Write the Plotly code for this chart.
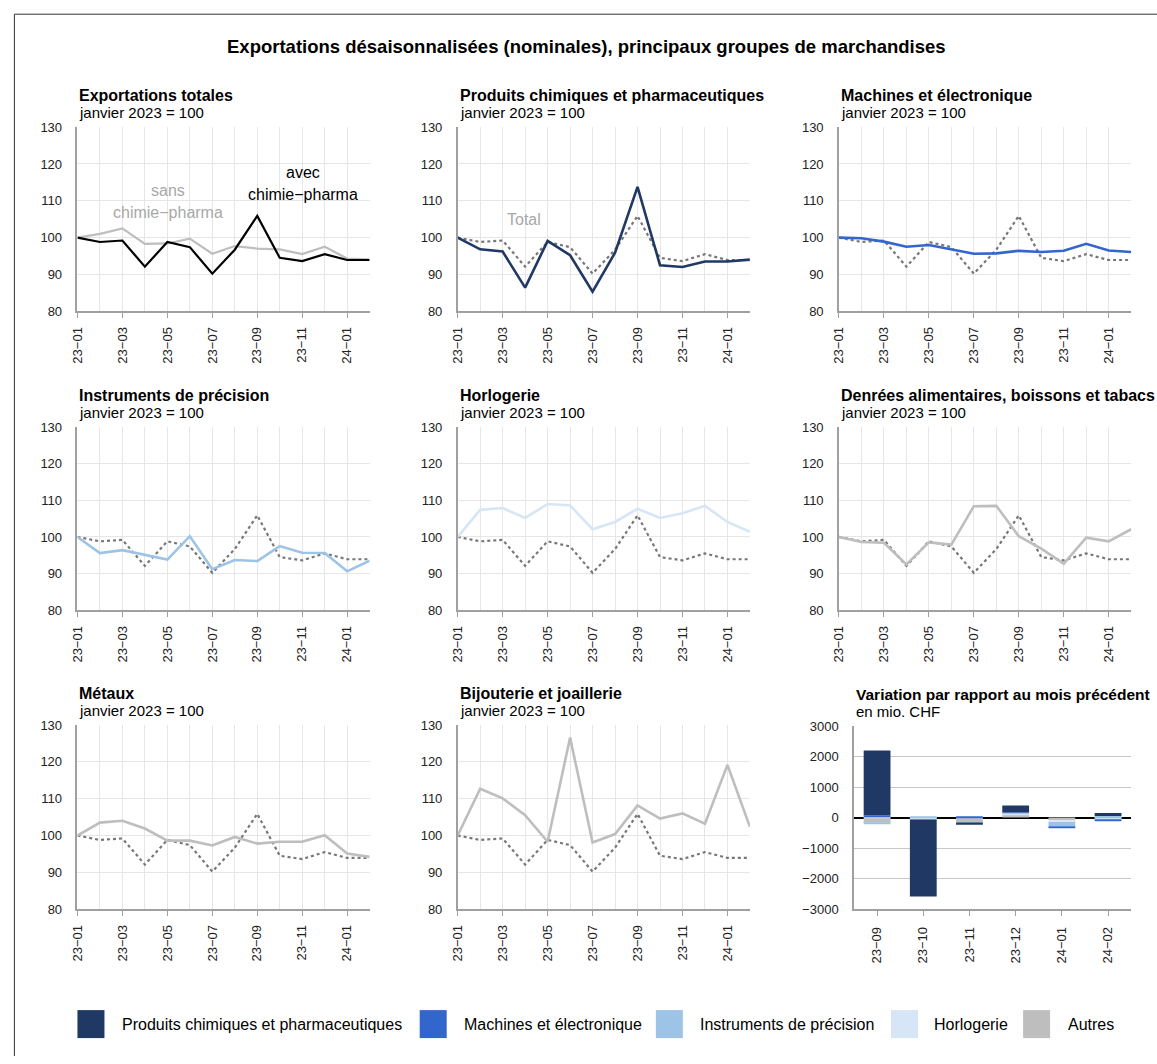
import plotly.graph_objects as go

W, H = 1157, 1064

months = ["23\u221201", "23\u221202", "23\u221203", "23\u221204", "23\u221205", "23\u221206", "23\u221207",
          "23\u221208", "23\u221209", "23\u221210", "23\u221211", "23\u221212", "24\u221201", "24\u221202"]

total = [100, 98.8, 99.2, 92.1, 98.8, 97.4, 90.2, 96.7, 105.9, 94.5, 93.6, 95.5, 93.9, 93.9]
sans_chimie = [100, 101.0, 102.5, 98.3, 98.4, 99.7, 95.6, 97.7, 97.0, 96.8, 95.5, 97.5, 94.3, 94.1]
chimie = [100, 96.8, 96.2, 86.4, 99.1, 95.2, 85.3, 95.9, 113.8, 92.5, 92.0, 93.5, 93.5, 94.0]
machines = [100, 99.8, 98.9, 97.5, 98.0, 96.8, 95.6, 95.7, 96.4, 96.1, 96.4, 98.3, 96.5, 96.1]
instruments = [100, 95.6, 96.4, 95.0, 93.8, 100.2, 91.2, 93.7, 93.4, 97.5, 95.7, 95.6, 90.6, 93.5]
horlogerie = [100, 107.4, 107.9, 105.2, 109.0, 108.6, 102.1, 104.1, 107.7, 105.2, 106.5, 108.5, 104.1, 101.4]
denrees = [100, 98.6, 98.4, 92.5, 98.5, 97.9, 108.4, 108.5, 100.2, 96.8, 92.7, 99.8, 98.8, 102.1]
metaux = [100, 103.5, 104.0, 101.9, 98.6, 98.6, 97.3, 99.6, 97.8, 98.3, 98.3, 100.1, 95.1, 94.2]
bijouterie = [100, 112.7, 110.1, 105.5, 98.3, 126.6, 98.1, 100.4, 108.2, 104.6, 106.0, 103.2, 119.2, 102.4]

bar_months = ["23\u221209", "23\u221210", "23\u221211", "23\u221212", "24\u221201", "24\u221202"]
var_autres = [-170, -10, -150, 95, -90, 10]
var_horlogerie = [40, -60, 15, 55, -55, -70]
var_instruments = [-15, 40, -10, 0, -140, 45]
var_machines = [35, -10, 25, 30, -35, -40]
var_chimie = [2130, -2510, -75, 220, 0, 95]

legend_labels = ["Produits chimiques et pharmaceutiques", "Machines et électronique",
                 "Instruments de précision", "Horlogerie", "Autres"]

C_CHEM = "#1F3864"
C_MACH = "#3366CC"
C_INST = "#9DC3E6"
C_HORL = "#D6E6F6"
C_GREY = "#BEBEBE"
C_DOT = "#777777"

FONT = "Liberation Sans, Arial, sans-serif"

# compensation for the page-capture offset/scale observed
OX, SX = 7.6, 0.9924
OY, SY = 6.8, 0.986


def px_x(p):
    return ((p - OX) / SX) / W


def px_y(p):
    return 1 - ((p - OY) / SY) / H


cols = [(77, 369), (457, 749), (838, 1130)]
rows = [(127, 311), (427, 610), (725, 909)]

panels = [
    ("Exportations totales", None, None),
    ("Produits chimiques et pharmaceutiques", chimie, C_CHEM),
    ("Machines et électronique", machines, C_MACH),
    ("Instruments de précision", instruments, C_INST),
    ("Horlogerie", horlogerie, C_HORL),
    ("Denrées alimentaires, boissons et tabacs", denrees, C_GREY),
    ("Métaux", metaux, C_GREY),
    ("Bijouterie et joaillerie", bijouterie, C_GREY),
]

fig = go.Figure()
annotations = []
shapes = []
layout = {}
xi = list(range(len(months)))

for i, (title, series, color) in enumerate(panels):
    r, c = divmod(i, 3)
    n = i + 1
    xa = "x" if n == 1 else f"x{n}"
    ya = "y" if n == 1 else f"y{n}"
    if i == 0:
        fig.add_trace(go.Scatter(x=xi, y=sans_chimie, mode="lines", line=dict(color=C_GREY, width=2.2),
                                 xaxis=xa, yaxis=ya, showlegend=False))
        fig.add_trace(go.Scatter(x=xi, y=total, mode="lines", line=dict(color="black", width=2.2),
                                 xaxis=xa, yaxis=ya, showlegend=False))
    else:
        fig.add_trace(go.Scatter(x=xi, y=total, mode="lines", line=dict(color=C_DOT, width=2.2, dash="dot"),
                                 xaxis=xa, yaxis=ya, showlegend=False))
        fig.add_trace(go.Scatter(x=xi, y=series, mode="lines", line=dict(color=color, width=2.6),
                                 xaxis=xa, yaxis=ya, showlegend=False))
    x0, x1 = cols[c]
    y0, y1 = rows[r]
    layout["xaxis" if n == 1 else f"xaxis{n}"] = dict(
        domain=[px_x(x0), px_x(x1)], anchor=ya, range=[0, 13],
        tickvals=xi[::2], ticktext=months[::2], tickangle=-90,
        showgrid=True, gridcolor="#E6E6E6", gridwidth=1,
        minor=dict(tickvals=xi[1::2], showgrid=True, gridcolor="#E6E6E6", gridwidth=1, ticks=""),
        showline=True, linecolor="#A0A0A0", linewidth=1.5,
        ticks="outside", ticklen=5, tickcolor="#A0A0A0", ticklabelstandoff=4,
        tickfont=dict(family=FONT, size=13, color="#222222"), zeroline=False, fixedrange=True)
    layout["yaxis" if n == 1 else f"yaxis{n}"] = dict(
        domain=[px_y(y1), px_y(y0)], anchor=xa, range=[80, 130], tickvals=[80, 90, 100, 110, 120, 130],
        showgrid=True, gridcolor="#E6E6E6", gridwidth=1,
        showline=True, linecolor="#A0A0A0", linewidth=1.5,
        ticks="", ticklabelstandoff=11,
        tickfont=dict(family=FONT, size=13, color="#222222"), zeroline=False, fixedrange=True)
    annotations.append(dict(x=px_x(x0), y=px_y(y0 - 32), xref="paper", yref="paper", xanchor="left", yanchor="middle",
                            text=f"<b>{title}</b>", showarrow=False,
                            font=dict(family=FONT, size=16, color="black")))
    annotations.append(dict(x=px_x(x0), y=px_y(y0 - 15), xref="paper", yref="paper", xanchor="left", yanchor="middle",
                            text="janvier 2023 = 100", showarrow=False,
                            font=dict(family=FONT, size=15, color="black")))

# Bar panel
bx = list(range(len(bar_months)))
bar_traces = [(var_autres, C_GREY), (var_horlogerie, C_HORL), (var_instruments, C_INST),
              (var_machines, C_MACH), (var_chimie, C_CHEM)]
for vals, col in bar_traces:
    fig.add_trace(go.Bar(x=bx, y=vals, marker=dict(color=col, line=dict(width=0)), width=0.58,
                         xaxis="x9", yaxis="y9", showlegend=False))
layout["xaxis9"] = dict(domain=[px_x(853), px_x(1130)], anchor="y9", range=[-0.5, 5.5],
                        tickvals=bx, ticktext=bar_months, tickangle=-90, showgrid=False,
                        showline=True, linecolor="#A0A0A0", linewidth=1.5,
                        ticks="outside", ticklen=5, tickcolor="#A0A0A0", ticklabelstandoff=6,
                        tickfont=dict(family=FONT, size=13, color="#222222"), fixedrange=True)
layout["yaxis9"] = dict(domain=[px_y(909), px_y(726)], anchor="x9", range=[-3000, 3000],
                        tickvals=[-3000, -2000, -1000, 0, 1000, 2000, 3000],
                        showgrid=True, gridcolor="#C8C8C8", gridwidth=1.2,
                        showline=True, linecolor="#A0A0A0", linewidth=1.5,
                        zeroline=True, zerolinecolor="black", zerolinewidth=1.5,
                        ticks="", ticklabelstandoff=11,
                        tickfont=dict(family=FONT, size=13, color="#222222"), fixedrange=True)
annotations.append(dict(x=px_x(853), y=px_y(694), xref="paper", yref="paper", xanchor="left", yanchor="middle",
                        text="<b>Variation par rapport au mois précédent</b>", showarrow=False,
                        font=dict(family=FONT, size=15.5, color="black")))
annotations.append(dict(x=px_x(853), y=px_y(711), xref="paper", yref="paper", xanchor="left", yanchor="middle",
                        text="en mio. CHF", showarrow=False,
                        font=dict(family=FONT, size=15, color="black")))

# Main title
annotations.append(dict(x=px_x(586), y=px_y(46), xref="paper", yref="paper", xanchor="center", yanchor="middle",
                        text="<b>Exportations désaisonnalisées (nominales), principaux groupes de marchandises</b>",
                        showarrow=False, font=dict(family=FONT, size=18.5, color="black")))

# Panel 1 labels
for txt, yy in [("sans", 190), ("chimie\u2212pharma", 212)]:
    annotations.append(dict(x=px_x(167), y=px_y(yy), xref="paper", yref="paper", xanchor="center", yanchor="middle",
                            text=txt, showarrow=False, font=dict(family=FONT, size=16, color="#A8A8A8")))
for txt, yy in [("avec", 172), ("chimie\u2212pharma", 194)]:
    annotations.append(dict(x=px_x(302), y=px_y(yy), xref="paper", yref="paper", xanchor="center", yanchor="middle",
                            text=txt, showarrow=False, font=dict(family=FONT, size=16, color="black")))
annotations.append(dict(x=px_x(523), y=px_y(219), xref="paper", yref="paper", xanchor="center", yanchor="middle",
                        text="Total", showarrow=False, font=dict(family=FONT, size=16, color="#A8A8A8")))

# Legend (manual)
leg_colors = [C_CHEM, C_MACH, C_INST, C_HORL, C_GREY]
leg_sq = [77, 419, 655, 890, 1022]
leg_tx = [120, 461, 697, 931, 1065]
for lab, col, sx, tx in zip(legend_labels, leg_colors, leg_sq, leg_tx):
    shapes.append(dict(type="rect", xref="paper", yref="paper", x0=px_x(sx), x1=px_x(sx + 27),
                       y0=px_y(1038), y1=px_y(1010), fillcolor=col, line=dict(width=0)))
    annotations.append(dict(x=px_x(tx), y=px_y(1024), xref="paper", yref="paper", xanchor="left", yanchor="middle",
                            text=lab, showarrow=False, font=dict(family=FONT, size=16, color="black")))

# Outer border
shapes.append(dict(type="line", xref="paper", yref="paper", x0=px_x(14), x1=px_x(14), y0=px_y(14), y1=0,
                   line=dict(color="#333333", width=1)))
shapes.append(dict(type="line", xref="paper", yref="paper", x0=px_x(14), x1=1, y0=px_y(14), y1=px_y(14),
                   line=dict(color="#333333", width=1)))

fig.update_layout(width=W, height=H, margin=dict(l=0, r=0, t=0, b=0), paper_bgcolor="white",
                  plot_bgcolor="white", barmode="relative", bargap=0.42, showlegend=False,
                  annotations=annotations, shapes=shapes, font=dict(family=FONT), **layout)

fig.write_html("out.html", config={"displayModeBar": False},
               post_script="document.body.style.margin='0';document.body.style.padding='0';"
                           "document.body.style.overflow='hidden';")
